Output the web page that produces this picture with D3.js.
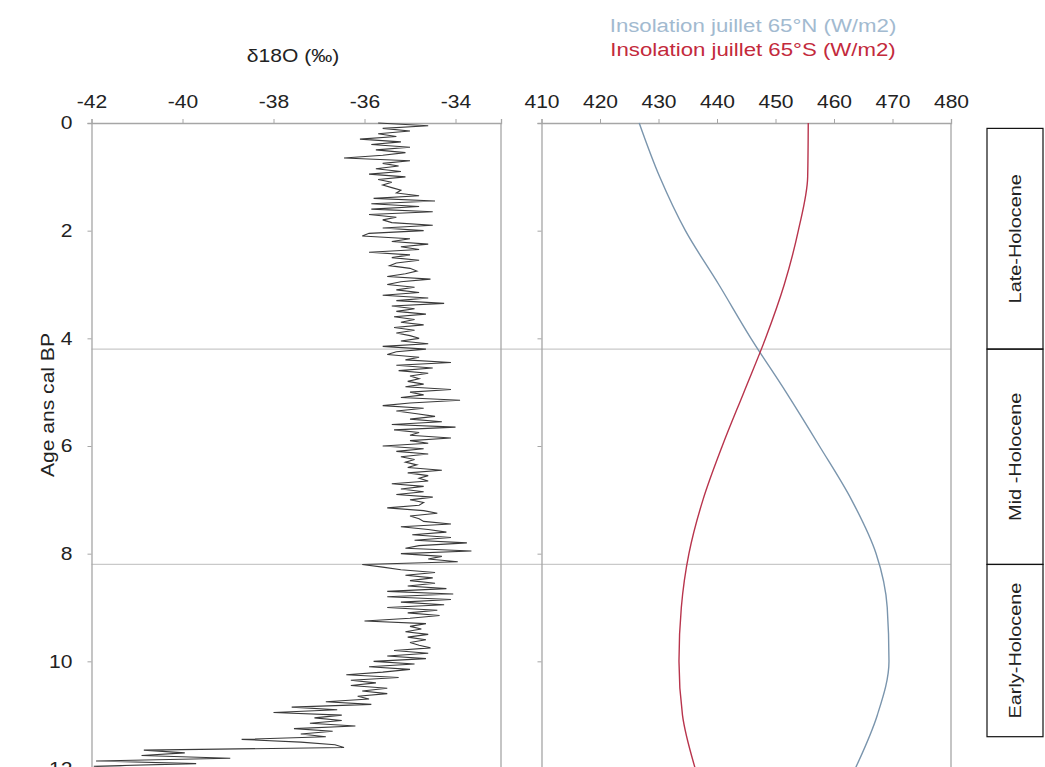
<!DOCTYPE html>
<html><head><meta charset="utf-8">
<script src="https://cdn.jsdelivr.net/npm/d3@7"></script>
<style>
html,body{margin:0;padding:0;background:#fff;overflow:hidden;}
svg{display:block;font-family:"Liberation Sans",Arial,sans-serif;}
</style></head>
<body>
<svg id="chart" width="1045" height="767"></svg>
<script>
// ---------- DATA ----------
const ageTicks = [0, 2, 4, 6, 8, 10, 12];
const d18OTicks = [-42, -40, -38, -36, -34];
const insolTicks = [410, 420, 430, 440, 450, 460, 470, 480];
const eventAges = [4.2, 8.2];
const stageNames = ["Late-Holocene", "Mid -Holocene", "Early-Holocene"];
const stageFrom = [0.1, 4.2, 8.2];
const stageTo = [4.2, 8.2, 11.4];

const insolAges = [0, 1, 2, 3, 4, 5, 6, 7, 8, 9, 10, 11, 12];
const insol65N = [426.7, 430.2, 434.6, 440.3, 445.8, 451.8, 457.5, 463.0, 467.2, 469.1, 469.4, 467.4, 463.6];
const insol65S = [455.6, 455.5, 453.9, 451.5, 448.3, 444.6, 440.9, 437.6, 435.2, 433.9, 433.5, 434.1, 436.3];

// delta18O record [age ka, permil]
const d18O = [
[0.00,-35.7],[0.05,-34.6],[0.10,-35.6],[0.15,-35.0],[0.20,-35.7],[0.25,-35.3],[0.30,-36.1],[0.35,-35.2],[0.40,-35.85],[0.45,-35.0],
[0.50,-35.75],[0.55,-35.1],[0.60,-35.6],[0.65,-36.45],[0.70,-35.0],[0.75,-35.6],[0.80,-35.25],[0.85,-35.75],[0.90,-35.2],[0.95,-35.9],
[1.00,-35.1],[1.05,-35.7],[1.10,-35.4],[1.15,-35.6],[1.20,-35.4],[1.25,-35.2],[1.30,-35.3],[1.35,-34.8],[1.40,-35.8],[1.45,-34.45],
[1.50,-35.85],[1.55,-34.8],[1.60,-35.85],[1.65,-34.5],[1.70,-35.9],[1.75,-35.3],[1.80,-35.6],[1.85,-35.4],[1.90,-34.5],[1.95,-35.6],
[2.00,-34.7],[2.05,-35.9],[2.10,-36.05],[2.15,-35.0],[2.20,-35.4],[2.25,-34.6],[2.30,-35.2],[2.35,-34.8],[2.40,-35.9],[2.45,-35.0],
[2.50,-35.4],[2.55,-34.8],[2.60,-35.3],[2.65,-35.45],[2.70,-35.0],[2.75,-34.85],[2.80,-35.1],[2.85,-35.5],[2.90,-34.55],[2.95,-35.2],
[3.00,-35.5],[3.05,-34.9],[3.10,-35.3],[3.15,-34.8],[3.20,-35.6],[3.25,-34.6],[3.30,-35.3],[3.35,-34.25],[3.40,-35.4],[3.45,-34.9],
[3.50,-35.3],[3.55,-34.65],[3.60,-35.35],[3.65,-34.9],[3.70,-35.2],[3.75,-34.7],[3.80,-35.35],[3.85,-34.9],[3.90,-35.3],[3.95,-35.0],
[4.00,-34.8],[4.05,-35.2],[4.10,-34.6],[4.15,-35.6],[4.20,-34.65],[4.25,-35.3],[4.30,-35.5],[4.35,-34.8],[4.40,-35.1],[4.45,-34.1],
[4.50,-35.3],[4.55,-34.5],[4.60,-35.25],[4.65,-34.6],[4.70,-35.0],[4.75,-34.8],[4.80,-35.05],[4.85,-34.7],[4.90,-35.1],[4.95,-34.1],
[5.00,-35.0],[5.05,-34.7],[5.10,-35.2],[5.15,-33.9],[5.20,-35.0],[5.25,-35.6],[5.30,-34.7],[5.35,-35.3],[5.40,-34.85],[5.45,-34.45],
[5.50,-35.0],[5.55,-34.3],[5.60,-35.4],[5.65,-34.0],[5.70,-35.35],[5.75,-34.8],[5.80,-35.0],[5.85,-34.1],[5.90,-35.0],[5.95,-34.6],
[6.00,-35.6],[6.05,-34.7],[6.10,-35.3],[6.15,-34.6],[6.20,-35.2],[6.25,-34.9],[6.30,-35.1],[6.35,-34.85],[6.40,-35.05],[6.45,-34.3],
[6.50,-35.05],[6.55,-34.6],[6.60,-34.8],[6.65,-34.6],[6.70,-35.4],[6.75,-34.7],[6.80,-35.2],[6.85,-34.7],[6.90,-35.3],[6.95,-34.5],
[7.00,-35.0],[7.05,-34.7],[7.10,-34.8],[7.15,-35.5],[7.20,-34.7],[7.25,-34.4],[7.30,-35.0],[7.35,-34.8],[7.40,-34.7],[7.45,-34.1],
[7.50,-35.2],[7.55,-34.6],[7.60,-34.2],[7.65,-34.95],[7.70,-34.1],[7.75,-34.9],[7.80,-33.75],[7.85,-34.8],[7.90,-35.1],[7.95,-33.65],
[8.00,-35.2],[8.05,-34.3],[8.10,-34.6],[8.15,-33.95],[8.20,-36.05],[8.25,-35.6],[8.30,-35.2],[8.35,-34.45],[8.40,-35.1],[8.45,-34.5],
[8.50,-35.0],[8.55,-34.45],[8.60,-35.05],[8.65,-34.2],[8.70,-35.5],[8.75,-34.05],[8.80,-35.5],[8.85,-34.1],[8.90,-35.2],[8.95,-34.25],
[9.00,-35.5],[9.05,-34.4],[9.10,-35.05],[9.15,-34.35],[9.20,-35.0],[9.25,-36.0],[9.30,-34.65],[9.35,-35.0],[9.40,-34.75],[9.45,-35.1],
[9.50,-34.6],[9.55,-35.05],[9.60,-34.65],[9.65,-35.0],[9.70,-34.8],[9.75,-34.55],[9.80,-35.35],[9.85,-34.6],[9.90,-35.5],[9.95,-34.65],
[10.00,-35.8],[10.05,-34.9],[10.10,-35.9],[10.15,-35.0],[10.20,-35.6],[10.25,-36.4],[10.30,-35.25],[10.35,-36.3],[10.40,-35.75],[10.45,-36.3],
[10.50,-35.5],[10.55,-36.05],[10.60,-35.5],[10.65,-36.15],[10.70,-35.9],[10.75,-36.85],[10.80,-35.85],[10.85,-37.6],[10.90,-36.6],[10.95,-38.0],
[11.00,-36.5],[11.05,-37.1],[11.10,-36.5],[11.15,-37.2],[11.20,-36.2],[11.25,-37.55],[11.30,-36.7],[11.35,-37.4],[11.40,-36.85],[11.45,-38.7],
[11.50,-37.4],[11.55,-36.65],[11.60,-36.45],[11.65,-40.85],[11.70,-39.95],[11.75,-40.9],[11.80,-38.95],[11.85,-41.9],[11.90,-39.7],[11.95,-41.95],
[12.00,-40.4]
];

// ---------- LAYOUT ----------
const svg = d3.select("#chart");
const font = 18, sx = 1.17;
const axisColor = "#a6a6a6";
const y = d3.scaleLinear().domain([0, 12]).range([123, 769]);
const xL = d3.scaleLinear().domain([-42, -33]).range([91.5, 501]);
const xR = d3.scaleLinear().domain([410, 480]).range([541.5, 951]);
const fmt = d => String(d);   // plain hyphen minus, as in the reference

function styleAxis(g){
  g.select(".domain").attr("stroke", axisColor).attr("stroke-width", 1.3);
  g.selectAll(".tick line").attr("stroke", axisColor);
  g.selectAll(".tick text").attr("fill", "#222").attr("font-size", font)
    .attr("font-family", '"Liberation Sans",Arial,sans-serif');
}

// event lines
svg.selectAll("line.event").data(eventAges).join("line")
  .attr("class","event")
  .attr("x1", xL.range()[0]).attr("x2", xR.range()[1])
  .attr("y1", d => y(d)).attr("y2", d => y(d))
  .attr("stroke", "#c9c9c9").attr("stroke-width", 1.2);

// right borders of each panel
[xL.range()[1], xR.range()[1]].forEach(xx => {
  svg.append("line").attr("x1", xx).attr("x2", xx).attr("y1", y(0)).attr("y2", 767)
    .attr("stroke", axisColor).attr("stroke-width", 1.3);
});

// left panel axes
const gLt = svg.append("g").attr("transform", `translate(0,${y(0)})`)
  .call(d3.axisTop(xL).tickValues(d18OTicks).tickSize(4).tickPadding(11).tickFormat(fmt));
styleAxis(gLt);
const gLl = svg.append("g").attr("transform", `translate(${xL.range()[0]},0)`)
  .call(d3.axisLeft(y).tickValues(ageTicks).tickSize(4).tickPadding(15).tickFormat(fmt));
styleAxis(gLl);

// right panel axes
const gRt = svg.append("g").attr("transform", `translate(0,${y(0)})`)
  .call(d3.axisTop(xR).tickValues(insolTicks).tickSize(4).tickPadding(11).tickFormat(fmt));
styleAxis(gRt);
const gRl = svg.append("g").attr("transform", `translate(${xR.range()[0]},0)`)
  .call(d3.axisLeft(y).tickValues(ageTicks).tickSize(4).tickFormat(""));
styleAxis(gRl);

// horizontal stretch of text to match reference
svg.selectAll(".tick text").each(function(){
  const t = d3.select(this);
  t.attr("transform", `scale(${sx},1)`).attr("x", (+t.attr("x")||0)/sx);
});

// data lines
const lineD = d3.line().x(d => xL(d[1])).y(d => y(d[0]));
svg.append("path").datum(d18O).attr("d", lineD)
  .attr("fill","none").attr("stroke","#3a3a3a").attr("stroke-width",1.1);

const lineN = d3.line().x((d,i) => xR(insol65N[i])).y(d => y(d)).curve(d3.curveMonotoneY);
const lineS = d3.line().x((d,i) => xR(insol65S[i])).y(d => y(d)).curve(d3.curveMonotoneY);
svg.append("path").datum(insolAges).attr("d", lineN)
  .attr("fill","none").attr("stroke","#7a95ad").attr("stroke-width",1.4);
svg.append("path").datum(insolAges).attr("d", lineS)
  .attr("fill","none").attr("stroke","#b8344c").attr("stroke-width",1.4);

// titles
function label(x, yy, txt, color, rot, fs){
  const tr = rot ? `translate(${x},${yy}) rotate(-90) scale(${sx},1)` : `translate(${x},${yy}) scale(${sx},1)`;
  return svg.append("text").attr("transform", tr).attr("text-anchor","middle")
    .attr("font-size", fs || font).attr("fill", color).text(txt);
}
label(293, 62, "δ18O (‰)", "#222");
label(753, 32, "Insolation juillet 65°N (W/m2)", "#a2bad0", false, 19);
label(753, 56, "Insolation juillet 65°S (W/m2)", "#c32a3c", false, 19);
label(54, 405, "Age ans cal BP", "#222", true);

// stage boxes
const stages = stageNames.map((n,i) => ({name:n, from:stageFrom[i], to:stageTo[i]}));
const bx0 = 987, bx1 = 1043;
svg.selectAll("rect.stage").data(stages).join("rect")
  .attr("class","stage")
  .attr("x", bx0).attr("width", bx1 - bx0)
  .attr("y", d => y(d.from)).attr("height", d => y(d.to) - y(d.from))
  .attr("fill","none").attr("stroke","#111").attr("stroke-width",1.2);
stages.forEach(d => {
  label((bx0+bx1)/2 + 6, (y(d.from)+y(d.to))/2, d.name, "#222", true, 17);
});
</script>
</body></html>
